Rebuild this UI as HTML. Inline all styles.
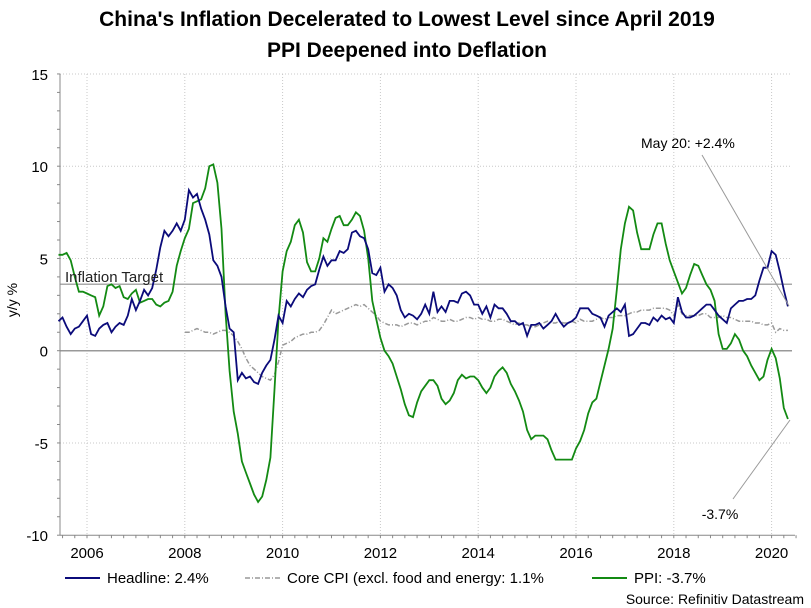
<!DOCTYPE html>
<html><head><meta charset="utf-8">
<style>
body{margin:0;background:#fff;}
svg{display:block;font-family:"Liberation Sans",Arial,sans-serif;}
</style></head>
<body>
<svg id="chart" width="811" height="608" viewBox="0 0 811 608">
<text x="407" y="26" text-anchor="middle" font-size="21" font-weight="bold">China's Inflation Decelerated to Lowest Level since April 2019</text>
<text x="407" y="57" text-anchor="middle" font-size="21" font-weight="bold">PPI Deepened into Deflation</text>
<text transform="translate(17,300) rotate(-90)" text-anchor="middle" font-size="14">y/y %</text>
<g id="grid"></g>
<g id="axes"></g>
<g id="series"></g>
<text x="65" y="282" font-size="15" fill="#222">Inflation Target</text>
<line x1="702" y1="155" x2="789" y2="306" stroke="#999" stroke-width="1"/>
<text x="641" y="148" font-size="14">May 20: +2.4%</text>
<line x1="733" y1="499" x2="790" y2="420" stroke="#999" stroke-width="1"/>
<text x="720" y="519" text-anchor="middle" font-size="14">-3.7%</text>
<g font-size="15">
<line x1="65" y1="578" x2="100" y2="578" stroke="#0b0b7a" stroke-width="2"/>
<text x="107" y="583">Headline: 2.4%</text>
<line x1="245" y1="578" x2="280" y2="578" stroke="#999" stroke-width="1.5" stroke-dasharray="5,2,1,2"/>
<text x="287" y="583">Core CPI (excl. food and energy: 1.1%</text>
<line x1="592" y1="578" x2="627" y2="578" stroke="#138a13" stroke-width="2"/>
<text x="634" y="583">PPI: -3.7%</text>
</g>
<text x="804" y="604" text-anchor="end" font-size="14">Source: Refinitiv Datastream</text>
</svg>
<script>
const yTicks = [15, 10, 5, 0, -5, -10];
const xTickYears = [2006, 2008, 2010, 2012, 2014, 2016, 2018, 2020];
const inflationTarget = [3.6];
const headlineStart = 2005 + 5/12;
const headline = [1.6,1.8,1.3,0.9,1.2,1.3,1.6,
1.9,0.9,0.8,1.2,1.4,1.5,1.0,1.3,1.5,1.4,1.9,2.8,
2.2,2.7,3.3,3.0,3.4,4.4,5.6,6.5,6.2,6.5,6.9,6.5,
7.1,8.7,8.3,8.5,7.7,7.1,6.3,4.9,4.6,4.0,2.4,1.2,
1.0,-1.6,-1.2,-1.5,-1.4,-1.7,-1.8,-1.2,-0.8,-0.5,0.6,1.9,
1.5,2.7,2.4,2.8,3.1,2.9,3.3,3.5,3.6,4.4,5.1,4.6,
4.9,4.9,5.4,5.3,5.5,6.4,6.5,6.2,6.1,5.5,4.2,4.1,
4.5,3.2,3.6,3.4,3.0,2.2,1.8,2.0,1.9,1.7,2.0,2.5,
2.0,3.2,2.1,2.4,2.1,2.7,2.7,2.6,3.1,3.2,3.0,2.5,
2.5,2.0,2.4,1.8,2.5,2.3,2.3,2.0,1.6,1.6,1.4,1.5,
0.8,1.4,1.4,1.5,1.2,1.4,1.6,2.0,1.6,1.3,1.5,1.6,
1.8,2.3,2.3,2.3,2.0,1.9,1.8,1.3,1.9,2.1,2.3,2.1,
2.5,0.8,0.9,1.2,1.5,1.5,1.4,1.8,1.6,1.9,1.7,1.8,
1.5,2.9,2.1,1.8,1.8,1.9,2.1,2.3,2.5,2.5,2.2,1.9,
1.7,1.5,2.3,2.5,2.7,2.7,2.8,2.8,3.0,3.8,4.5,4.5,
5.4,5.2,4.3,3.3,2.4];
const ppiStart = 2005 + 5/12;
const ppi = [5.2,5.2,5.3,4.9,4.0,3.2,3.2,
3.1,3.0,2.9,1.9,2.4,3.5,3.6,3.4,3.5,2.9,2.8,3.1,
3.3,2.6,2.7,2.8,2.8,2.5,2.4,2.6,2.7,3.2,4.6,5.4,
6.1,6.6,8.0,8.1,8.2,8.8,10.0,10.1,9.1,6.6,2.0,-1.1,
-3.3,-4.5,-6.0,-6.6,-7.2,-7.8,-8.2,-7.9,-7.0,-5.8,-2.1,1.7,
4.3,5.4,5.9,6.8,7.1,6.4,4.8,4.3,4.3,5.0,6.1,5.9,
6.6,7.2,7.3,6.8,6.8,7.1,7.5,7.3,6.5,5.0,2.7,1.7,
0.7,0.0,-0.3,-0.7,-1.4,-2.1,-2.9,-3.5,-3.6,-2.8,-2.2,-1.9,
-1.6,-1.6,-1.9,-2.6,-2.9,-2.7,-2.3,-1.6,-1.3,-1.5,-1.4,-1.4,
-1.6,-2.0,-2.3,-2.0,-1.4,-1.1,-0.9,-1.2,-1.8,-2.2,-2.7,-3.3,
-4.3,-4.8,-4.6,-4.6,-4.6,-4.8,-5.4,-5.9,-5.9,-5.9,-5.9,-5.9,
-5.3,-4.9,-4.3,-3.4,-2.8,-2.6,-1.7,-0.8,0.1,1.2,3.3,5.5,
6.9,7.8,7.6,6.4,5.5,5.5,5.5,6.3,6.9,6.9,5.8,4.9,
4.3,3.7,3.1,3.4,4.1,4.7,4.6,4.1,3.6,3.3,2.7,0.9,
0.1,0.1,0.4,0.9,0.6,0.0,-0.3,-0.8,-1.2,-1.6,-1.4,-0.5,
0.1,-0.4,-1.5,-3.1,-3.7];
const coreStart = 2008;
const core = [1.0,1.0,1.1,1.2,1.1,1.0,1.0,0.9,1.0,1.1,1.1,1.0,
0.8,0.5,0.1,-0.4,-0.8,-1.0,-1.2,-1.4,-1.5,-1.6,-1.3,-0.6,
0.3,0.4,0.5,0.7,0.8,0.9,0.9,1.0,1.0,1.1,1.4,1.8,
2.2,2.0,2.1,2.2,2.3,2.4,2.5,2.4,2.5,2.3,2.1,1.9,
1.6,1.5,1.4,1.4,1.4,1.3,1.4,1.5,1.5,1.4,1.5,1.6,
1.6,1.8,1.7,1.6,1.6,1.7,1.6,1.6,1.7,1.8,1.8,1.7,
1.8,1.7,1.7,1.6,1.6,1.7,1.7,1.6,1.5,1.4,1.5,1.4,
1.4,1.3,1.3,1.4,1.5,1.6,1.5,1.5,1.6,1.5,1.5,1.6,
1.5,1.7,1.6,1.6,1.6,1.7,1.8,1.7,1.8,1.8,1.9,1.9,
1.9,2.0,2.1,2.1,2.2,2.2,2.2,2.3,2.3,2.3,2.3,2.2,
1.9,2.5,2.0,1.9,1.9,1.9,1.9,2.0,2.0,1.8,1.8,1.8,
1.9,1.8,1.8,1.7,1.6,1.6,1.6,1.6,1.5,1.5,1.4,1.4,
1.5,1.0,1.2,1.1,1.1];

const X0 = 87, PX_YR = 48.9, Y0 = 350.7, PX_U = 18.45;
const LEFT = 60, RIGHT = 795, PLOT_R = 792;
function xs(t){ return X0 + (t-2006)*PX_YR; }
function ys(v){ return Y0 - v*PX_U; }
const NS = "http://www.w3.org/2000/svg";
function mk(tag, attrs, parent){ const e=document.createElementNS(NS,tag); for(const k in attrs) e.setAttribute(k,attrs[k]); parent.appendChild(e); return e; }
const grid = document.getElementById('grid'), axes = document.getElementById('axes'), series = document.getElementById('series');

yTicks.forEach(v=>{
  if (v!==0 && v!==-10){
    const l = mk('line',{x1:LEFT,x2:PLOT_R,y1:ys(v),y2:ys(v),stroke:'#c8c8c8','stroke-dasharray':'1,2'},grid);
    
    
  }
  const t = mk('text',{x:48,y:ys(v)+6,'text-anchor':'end','font-size':15},axes);
  t.textContent = v;
  
  
});
for(let v=-10; v<=15; v++){
  const m = mk('line',{x1:LEFT-3,x2:LEFT,y1:ys(v),y2:ys(v),stroke:'#888'},axes);
  
  
}
xTickYears.forEach(yr=>{
  const l = mk('line',{x1:xs(yr),x2:xs(yr),y1:ys(15),y2:ys(-10),stroke:'#c8c8c8','stroke-dasharray':'1,2'},grid);
  
  
  const t = mk('text',{x:xs(yr),y:558,'text-anchor':'middle','font-size':15},axes);
  t.textContent = yr;
  
  
});
for(let q=2005.5; q<=2020.5; q+=0.25){
  const m = mk('line',{x1:xs(q),x2:xs(q),y1:ys(-10),y2:ys(-10)+3,stroke:'#888'},axes);
  
  
}
const zl = mk('line',{x1:LEFT,x2:PLOT_R,y1:ys(0),y2:ys(0),stroke:'#999','stroke-width':1.5},grid);


const tl = mk('line',{x1:LEFT,x2:PLOT_R,y1:ys(inflationTarget[0]),y2:ys(inflationTarget[0]),stroke:'#aaa','stroke-width':1.5},grid);


const ya = mk('line',{x1:LEFT,x2:LEFT,y1:ys(15),y2:ys(-10),stroke:'#888'},axes);


const xa = mk('line',{x1:LEFT,x2:RIGHT,y1:ys(-10),y2:ys(-10),stroke:'#888'},axes);



function path(arr,start){ return arr.map((v,i)=>(i?'L':'M')+xs(start+i/12).toFixed(1)+','+ys(v).toFixed(1)).join(' '); }
const pc = mk('path',{d:path(core,coreStart),fill:'none',stroke:'#999','stroke-width':1.5,'stroke-dasharray':'5,2,1,2'},series);


const pp = mk('path',{d:path(ppi,ppiStart),fill:'none',stroke:'#138a13','stroke-width':1.8},series);


const ph = mk('path',{d:path(headline,headlineStart),fill:'none',stroke:'#0b0b7a','stroke-width':1.8},series);


</script>
</body></html>
